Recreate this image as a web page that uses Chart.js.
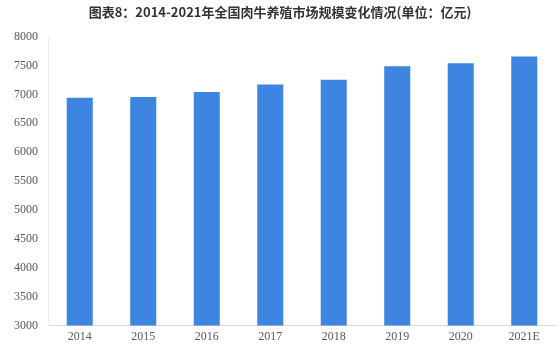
<!DOCTYPE html>
<html>
<head>
<meta charset="utf-8">
<script src="https://cdn.jsdelivr.net/npm/chart.js@4/dist/chart.umd.min.js"></script>
<style>
  html, body { margin: 0; padding: 0; background: #fff; }
  #wrap { width: 560px; height: 348px; }
</style>
</head>
<body>
<div id="wrap"><canvas id="graph-1"></canvas></div>
<script>
const years = ['2014', '2015', '2016', '2017', '2018', '2019', '2020', '2021E'];
const scaleValues = [6940, 6955, 7040, 7170, 7255, 7485, 7540, 7655]; // 亿元
const yMin = 3000;
const yMax = 8000;
const yStep = 500;

const data = {
  labels: years,
  datasets: [
    {
      label: '全国肉牛养殖市场规模',
      data: scaleValues,
      backgroundColor: '#3d85e0',
      borderWidth: 0,
      barPercentage: 0.41,
      categoryPercentage: 1
    }
  ]
};

const config = {
  type: 'bar',
  data: data,
  options: {
    responsive: true,
    maintainAspectRatio: false,
    animation: false,
    layout: { padding: { left: 4, right: 4, top: 0, bottom: 0 } },
    plugins: {
      legend: { display: false },
      tooltip: { enabled: false },
      title: {
        display: true,
        text: '图表8：2014-2021年全国肉牛养殖市场规模变化情况(单位：亿元)',
        color: '#333',
        font: { family: '"Noto Sans CJK SC", sans-serif', size: 13, weight: 'bold' },
        padding: { top: 4, bottom: 17 }
      }
    },
    scales: {
      x: {
        grid: { display: false, drawTicks: false },
        border: { color: '#d9d9d9' },
        ticks: {
          color: '#595959',
          font: { family: '"Liberation Serif", serif', size: 12 },
          padding: 4
        }
      },
      y: {
        min: yMin,
        max: yMax,
        grid: { display: false, drawTicks: false },
        border: { color: '#eeeeee' },
        ticks: {
          stepSize: yStep,
          color: '#595959',
          font: { family: '"Liberation Serif", serif', size: 12 },
          padding: 10,
          callback: (v) => String(v)
        }
      }
    }
  }
};

const chart = new Chart(document.querySelector('#graph-1'), config);
</script>
</body>
</html>
